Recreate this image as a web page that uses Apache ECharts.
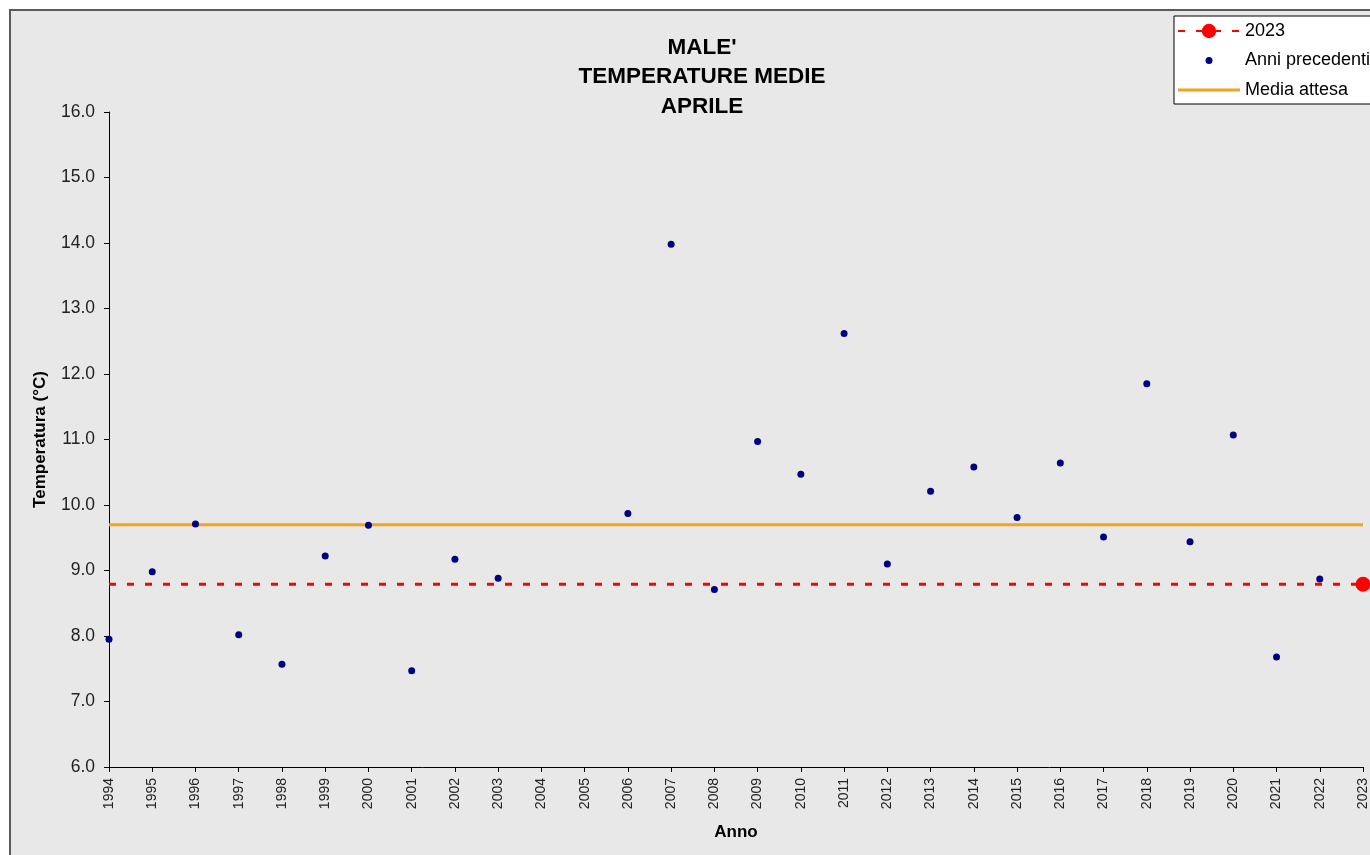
<!DOCTYPE html>
<html>
<head>
<meta charset="utf-8">
<title>Male' - Temperature medie aprile</title>
<script src="https://cdn.jsdelivr.net/npm/echarts@6/dist/echarts.min.js"></script>
<style>
	html, body { margin: 0; padding: 0; background: #fff; }
	.chart { width: 1370px; height: 855px; }
</style>
</head>
<body>
<div class="chart"></div>
<script>
// dati
const anni = [1994, 1995, 1996, 1997, 1998, 1999, 2000, 2001, 2002, 2003,
	2004, 2005, 2006, 2007, 2008, 2009, 2010, 2011, 2012, 2013,
	2014, 2015, 2016, 2017, 2018, 2019, 2020, 2021, 2022, 2023];
// anni precedenti (2004 e 2005 mancanti)
const temperature = [7.95, 8.98, 9.71, 8.02, 7.57, 9.22, 9.69, 7.47, 9.17, 8.88,
	null, null, 9.87, 13.98, 8.71, 10.97, 10.47, 12.62, 9.10, 10.21,
	10.58, 9.81, 10.64, 9.51, 11.85, 9.44, 11.07, 7.68, 8.87];
const valore2023 = 8.79;
const mediaAttesa = 9.70;
const tickY = [6, 7, 8, 9, 10, 11, 12, 13, 14, 15, 16];

(function() {
	// 1、inizializza
	let myChart = echarts.init(document.querySelector('.chart'));

	let font = '"Liberation Sans", Arial, sans-serif';
	let primoAnno = anni[0];
	let ultimoAnno = anni[anni.length - 1];

	let puntiPrecedenti = [];
	temperature.forEach(function(t, i) {
		if (t !== null) puntiPrecedenti.push([anni[i], t]);
	});

	// 2、opzioni
	let option = {
		backgroundColor: '#ffffff',
		animation: false,
		textStyle: { fontFamily: font },
		graphic: [
			{
				type: 'rect',
				z: -10,
				silent: true,
				shape: { x: 10, y: 10, width: 1420, height: 900 },
				style: { fill: '#e8e8e8', stroke: '#5a5a5a', lineWidth: 2 }
			}
		],
		title: {
			text: "MALE'\nTEMPERATURE MEDIE\nAPRILE",
			left: 697,
			top: 28,
			textAlign: 'center',
			textStyle: {
				fontFamily: font,
				fontSize: 22.5,
				fontWeight: 'bold',
				color: '#000',
				lineHeight: 29.5
			}
		},
		legend: {
			orient: 'vertical',
			left: 1174,
			top: 16,
			padding: [6, 40, 5, 3],
			itemWidth: 62,
			itemHeight: 18,
			itemGap: 11.5,
			backgroundColor: '#ffffff',
			borderColor: '#000000',
			borderWidth: 1,
			borderRadius: 0,
			textStyle: { fontFamily: font, fontSize: 18, color: '#000' },
			data: [
				{ name: '2023' },
				{ name: 'Anni precedenti', icon: 'path://M0 0M62 18M27.5 9a3.5 3.5 0 1 0 7 0a3.5 3.5 0 1 0 -7 0z' },
				{ name: 'Media attesa', icon: 'path://M0 7.5L62 7.5L62 10.5L0 10.5Z' }
			]
		},
		grid: {
			left: 109,
			top: 112,
			right: 5,
			bottom: 88,
			containLabel: false
		},
		xAxis: {
			type: 'value',
			min: primoAnno,
			max: ultimoAnno,
			interval: 1,
			name: 'Anno',
			nameLocation: 'middle',
			nameGap: 57,
			nameTextStyle: { fontFamily: font, fontSize: 17, fontWeight: 'bold', color: '#000' },
			axisLine: { lineStyle: { color: '#000', width: 1 } },
			axisTick: { length: 5, lineStyle: { color: '#000' } },
			axisLabel: {
				rotate: 90,
				margin: 11,
				fontSize: 14,
				color: '#222',
				showMinLabel: true,
				showMaxLabel: true,
				formatter: function(v) { return String(v); }
			},
			splitLine: { show: false }
		},
		yAxis: {
			type: 'value',
			min: tickY[0],
			max: tickY[tickY.length - 1],
			interval: 1,
			name: 'Temperatura (°C)',
			nameLocation: 'middle',
			nameGap: 60,
			nameTextStyle: { fontFamily: font, fontSize: 17, fontWeight: 'bold', color: '#000' },
			axisLine: { show: true, lineStyle: { color: '#000', width: 1 } },
			axisTick: { show: true, length: 5, lineStyle: { color: '#000' } },
			axisLabel: {
				margin: 14,
				fontSize: 17.5,
				color: '#222',
				formatter: function(v) { return v.toFixed(1); }
			},
			splitLine: { show: false }
		},
		series: [
			{
				name: 'Media attesa',
				type: 'line',
				symbol: 'none',
				z: 2,
				lineStyle: { color: '#f5a21c', width: 3 },
				itemStyle: { color: '#f5a21c' },
				data: [[primoAnno, mediaAttesa], [ultimoAnno, mediaAttesa]]
			},
			{
				name: '2023',
				type: 'line',
				symbol: 'circle',
				showSymbol: true,
				symbolSize: function(val, params) {
					return params.dataIndex === 1 ? 15 : 0;
				},
				z: 3,
				lineStyle: { color: '#ff0000', width: 3, type: [7, 11] },
				itemStyle: { color: '#ff0000' },
				data: [[primoAnno, valore2023], [ultimoAnno, valore2023]]
			},
			{
				name: 'Anni precedenti',
				type: 'scatter',
				symbolSize: 7,
				z: 4,
				itemStyle: { color: '#000080', opacity: 1 },
				data: puntiPrecedenti
			}
		]
	};

	// 3、applica
	myChart.setOption(option);

	// 4、resize
	window.addEventListener('resize', function() {
		myChart.resize();
	})
})();
</script>
</body>
</html>
